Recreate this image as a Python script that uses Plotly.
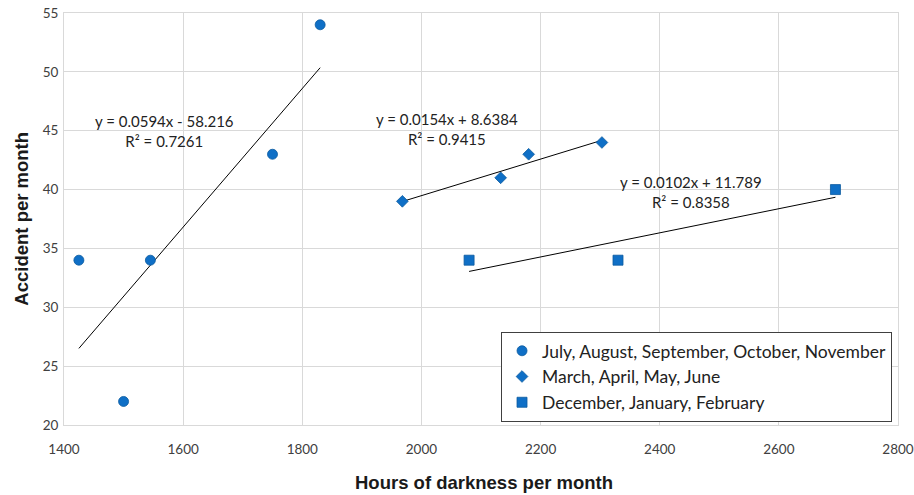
import numpy as np
import plotly.graph_objects as go

# Data
summer_x = [1425, 1500, 1545, 1750, 1830]
summer_y = [34, 22, 34, 43, 54]
spring_x = [1968, 2133, 2180, 2303]
spring_y = [39, 41, 43, 44]
winter_x = [2080, 2330, 2695]
winter_y = [34, 34, 40]

names = ["July, August, September, October, November",
         "March, April, May, June",
         "December, January, February"]
eq_texts = ["y = 0.0594x - 58.216<br>R² = 0.7261",
            "y = 0.0154x + 8.6384<br>R² = 0.9415",
            "y = 0.0102x + 11.789<br>R² = 0.8358"]
eq_pos = [(1568, 45.0), (2043, 45.15), (2453, 39.8)]

x_ticks = [1400, 1600, 1800, 2000, 2200, 2400, 2600, 2800]
y_ticks = [20, 25, 30, 35, 40, 45, 50, 55]

BLUE = "#0F6FC6"
FONT = "Lato"

fig = go.Figure()
series = [(summer_x, summer_y, "circle", 10), (spring_x, spring_y, "diamond", 9), (winter_x, winter_y, "square", 10)]
for (xs, ys, sym, sz), nm in zip(series, names):
    m, b = np.polyfit(xs, ys, 1)
    xe = np.array([min(xs), max(xs)])
    fig.add_trace(go.Scatter(x=xe, y=m * xe + b, mode="lines", line=dict(color="black", width=1),
                             showlegend=False, hoverinfo="skip"))
for (xs, ys, sym, sz), nm in zip(series, names):
    fig.add_trace(go.Scatter(x=xs, y=ys, mode="markers", name=nm,
                             marker=dict(symbol=sym, size=sz, color=BLUE,
                                         line=dict(color="#0B5A9E", width=0.8))))

for txt, (ax, ay) in zip(eq_texts, eq_pos):
    fig.add_annotation(x=ax, y=ay, text=txt, showarrow=False, align="center",
                       font=dict(family=FONT, size=15, color="#222222"))

fig.add_annotation(xref="paper", yref="paper", x=0.504, y=-0.139, yanchor="middle",
                   text="<b>Hours of darkness per month</b>", showarrow=False,
                   font=dict(family="Liberation Sans", size=18.5, color="#1a1a1a"))
fig.add_annotation(xref="paper", yref="paper", x=-0.052, y=0.5, xanchor="center", yanchor="middle",
                   textangle=-90, text="<b>Accident per month</b>", showarrow=False,
                   font=dict(family="Liberation Sans", size=18.5, color="#1a1a1a"))

fig.update_layout(
    width=914, height=495,
    margin=dict(l=64, r=16, t=13, b=70),
    plot_bgcolor="white", paper_bgcolor="white",
    font=dict(family=FONT, size=13.5, color="#404040"),
    xaxis=dict(range=[1400, 2800], tickvals=x_ticks, showgrid=True, gridcolor="#D9D9D9",
               zeroline=False, showline=True, mirror=True, linecolor="#D9D9D9", ticks="",
               automargin=False, ticklabeloverflow="allow", ticklabelstandoff=12),
    yaxis=dict(range=[20, 55], tickvals=y_ticks, showgrid=True, gridcolor="#D9D9D9",
               zeroline=False, showline=True, mirror=True, linecolor="#D9D9D9", ticks="",
               automargin=False, ticklabeloverflow="allow", ticklabelstandoff=2),
    legend=dict(x=0.524, y=0.226, xanchor="left", yanchor="top", bgcolor="white",
                bordercolor="#404040", borderwidth=1,
                font=dict(family=FONT, size=17.5, color="#222222"), itemsizing="trace"),
)

fig.write_html("out.html", config={"displayModeBar": False},
               post_script="document.body.style.margin='0';")
